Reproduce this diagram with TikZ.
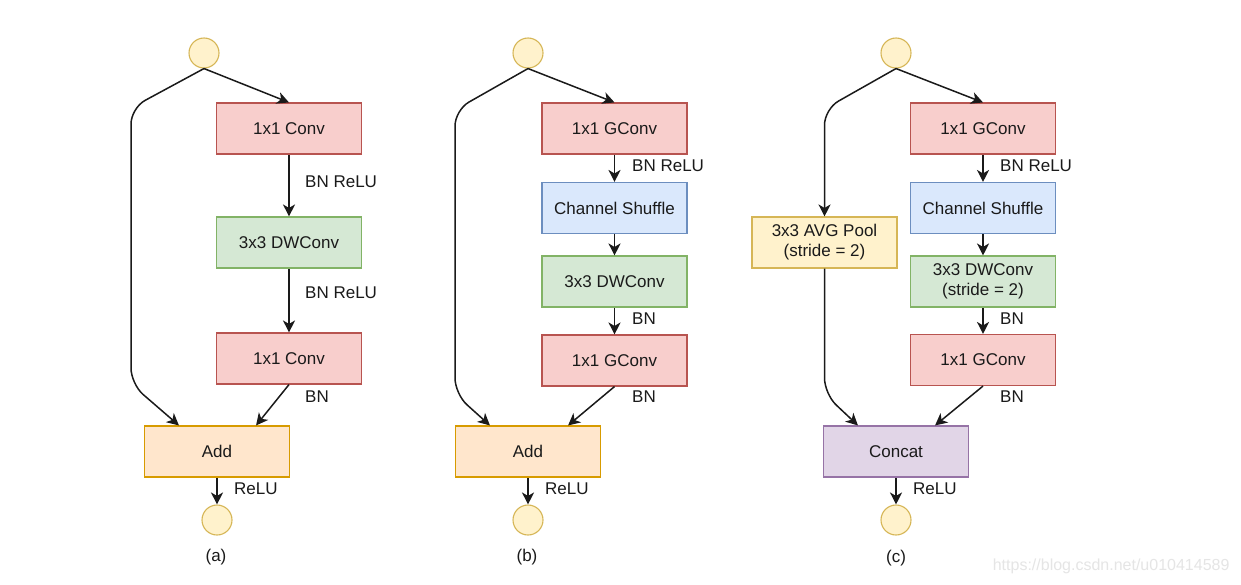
\documentclass[tikz,border=0pt]{standalone}
\usepackage{fontspec}
\setmainfont{Liberation Sans}
\usetikzlibrary{arrows.meta}
\definecolor{txt}{HTML}{1A1A1A}
\definecolor{redf}{HTML}{F8CECC}\definecolor{redd}{HTML}{B85450}
\definecolor{grnf}{HTML}{D5E8D4}\definecolor{grnd}{HTML}{82B366}
\definecolor{bluf}{HTML}{DAE8FC}\definecolor{blud}{HTML}{6C8EBF}
\definecolor{yelf}{HTML}{FFF2CC}\definecolor{yeld}{HTML}{D6B656}
\definecolor{orgf}{HTML}{FFE6CC}\definecolor{orgd}{HTML}{D79B00}
\definecolor{purf}{HTML}{E1D5E7}\definecolor{purd}{HTML}{9673A6}
\begin{document}
\begin{tikzpicture}[x=1pt, y=-1pt,
   >={Stealth[length=12pt,width=12pt,inset=3.5pt]},
   every node/.style={font=\fontsize{17}{20}\selectfont, text=txt},
   blk/.style={draw, line width=1.1pt, minimum width=145pt, minimum height=51pt, align=center, inner sep=0pt},
   convbox/.style={blk, fill=redf, draw=redd},
   dwbox/.style={blk, fill=grnf, draw=grnd},
   shufbox/.style={blk, fill=bluf, draw=blud},
   poolbox/.style={blk, fill=yelf, draw=yeld},
   addbox/.style={blk, fill=orgf, draw=orgd},
   catbox/.style={blk, fill=purf, draw=purd},
   io/.style={circle, draw=yeld, fill=yelf, line width=1.1pt, minimum size=30pt, inner sep=0pt},
   lab/.style={anchor=west, inner sep=0pt},
   flow/.style={line width=1.5pt, draw=txt}]
\fill[white] (0,0) rectangle (1241,584);
\useasboundingbox (0,0) rectangle (1241,584);
%  (a)
             \node [io] at (204,53) (ina) {};
              \node [convbox] at (289,128.5) (conva1) {1x1 Conv};
                   \node [dwbox] at (289,242.5) (dwa) {3x3 DWConv};
                       \node [convbox] at (289,358.5) (conva2) {1x1 Conv};
                        \node [addbox] at (217,451.5) (adda) {Add};
                        \node [io] at (217,520) (outa) {};
                          \node at (216,557) (capa) {(a)};
                           \node [lab] at (305,182) (la1) {BN ReLU};
                           \node [lab] at (305,293) (la2) {BN ReLU};
                           \node [lab] at (305,397) (la3) {BN};
                           \node [lab] at (234,489) (la4) {ReLU};
%  (b)
             \node [io] at (528,53) (inb) {};
              \node [convbox] at (614.5,128.5) (gconvb1) {1x1 GConv};
                   \node [shufbox] at (614.5,208) (shufb) {Channel Shuffle};
                       \node [dwbox] at (614.5,281.5) (dwb) {3x3 DWConv};
                        \node [convbox] at (614.5,360.5) (gconvb2) {1x1 GConv};
                        \node [addbox] at (528,451.5) (addb) {Add};
                        \node [io] at (528,520) (outb) {};
                          \node at (527,557) (capb) {(b)};
                           \node [lab] at (632,166) (lb1) {BN ReLU};
                           \node [lab] at (632,319) (lb2) {BN};
                           \node [lab] at (632,397) (lb3) {BN};
                           \node [lab] at (545,489) (lb4) {ReLU};
%  (c)
             \node [io] at (896,53) (inc) {};
              \node [convbox] at (983,128.5) (gconvc1) {1x1 GConv};
                   \node [shufbox] at (983,208) (shufc) {Channel Shuffle};
                       \node [dwbox] at (983,281.5) (dwc) {3x3 DWConv\\(stride = 2)};
                        \node [convbox] at (983,360) (gconvc2) {1x1 GConv};
                        \node [poolbox] at (824.5,242.5) (poolc) {3x3 AVG Pool\\(stride = 2)};
                        \node [catbox] at (896,451.5) (catc) {Concat};
                        \node [io] at (896,520) (outc) {};
                          \node at (896,558) (capc) {(c)};
                           \node [lab] at (1000,166) (lc1) {BN ReLU};
                           \node [lab] at (1000,319) (lc2) {BN};
                           \node [lab] at (1000,397) (lc3) {BN};
                           \node [lab] at (913,489) (lc4) {ReLU};
%
\node [anchor=east, text=black!10, font=\fontsize{16}{18}\selectfont] at (1233,566) (mark) {https://blog.csdn.net/u010414589};
%
\draw[<-, flow] (conva1.north) --(ina.south);
\draw[<-, flow] (dwa) --(conva1);
\draw[<-, flow] (conva2) --(dwa);
\draw[<-, flow] ([xshift=-34pt]adda.north east) --(conva2.south);
\draw[<-, flow] (outa) --(adda);
\draw[->, flow, rounded corners=16pt] (ina.south) -- (131,108) -- (131,384) -- ([xshift=35pt]adda.north west);
%
\draw[<-, flow] (gconvb1.north) --(inb.south);
\draw[<-, flow] (shufb) --(gconvb1);
\draw[<-, flow] (dwb) --(shufb);
\draw[<-, flow] (gconvb2) --(dwb);
\draw[<-, flow] ([xshift=-33pt]addb.north east) --(gconvb2.south);
\draw[<-, flow] (outb) --(addb);
\draw[->, flow, rounded corners=16pt] (inb.south) -- (455,110) -- (455,394) -- ([xshift=35pt]addb.north west);
%
\draw[<-, flow] (gconvc1.north) --(inc.south);
\draw[<-, flow] (shufc) --(gconvc1);
\draw[<-, flow] (dwc) --(shufc);
\draw[<-, flow] (gconvc2) --(dwc);
\draw[<-, flow] ([xshift=-34pt]catc.north east) --(gconvc2.south);
\draw[<-, flow] (outc) --(catc);
\draw[->, flow, rounded corners=16pt] (inc.south) -- (824.5,109) -- (poolc.north);
\draw[->, flow, rounded corners=16pt] (poolc.south) -- (824.5,394) -- ([xshift=35pt]catc.north west);
\end{tikzpicture}
\end{document}
